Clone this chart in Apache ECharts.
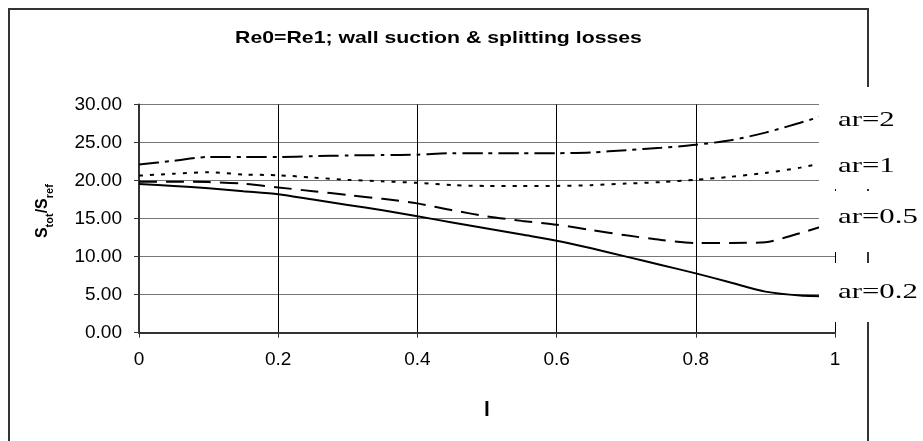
<!DOCTYPE html>
<html>
<head>
<meta charset="utf-8">
<script src="https://cdn.jsdelivr.net/npm/echarts@6/dist/echarts.min.js"></script>
<style>
  html, body { margin: 0; padding: 0; background: #fff; }
  #chart { width: 923px; height: 441px; }
</style>
</head>
<body>
<div id="chart"></div>
<script>
// x positions (l) shared by all curves
const xValues = [0, 0.05, 0.1, 0.15, 0.2, 0.25, 0.3, 0.35, 0.4, 0.45, 0.5,
                 0.55, 0.6, 0.65, 0.7, 0.75, 0.8, 0.85, 0.9, 0.95, 1.0];
// Stot/Sref
const ar2  = [22.1, 22.6, 23.1, 23.1, 23.1, 23.2, 23.3, 23.35, 23.4, 23.6, 23.6,
              23.6, 23.6, 23.7, 24.0, 24.3, 24.7, 25.3, 26.3, 27.6, 29.0];
const ar1  = [20.65, 20.9, 21.1, 20.8, 20.7, 20.4, 20.1, 19.9, 19.7, 19.4, 19.3,
              19.3, 19.3, 19.4, 19.6, 19.8, 20.1, 20.5, 21.0, 21.7, 22.6];
const ar05 = [19.85, 19.85, 19.8, 19.6, 19.1, 18.6, 18.1, 17.6, 17.0, 16.1, 15.3,
              14.7, 14.2, 13.5, 12.8, 12.2, 11.8, 11.8, 11.9, 13.1, 14.5];
const ar02 = [19.55, 19.3, 19.0, 18.6, 18.2, 17.5, 16.8, 16.1, 15.3, 14.5, 13.7,
              12.9, 12.1, 11.1, 10.0, 8.9, 7.8, 6.6, 5.4, 4.9, 4.8];
const seriesNames = ["ar=2", "ar=1", "ar=0.5", "ar=0.2"];
const chartTitle = "Re0=Re1; wall suction & splitting losses";

const chart = echarts.init(document.getElementById("chart"));

const toPairs = arr => xValues.map((x, i) => [x, arr[i]]);

// dash patterns, one per curve
const dashes = [[20, 6, 4, 6], [4, 7], [18, 9], "solid"];
const allData = [ar2, ar1, ar05, ar02];

const series = allData.map((arr, i) => ({
  name: seriesNames[i],
  type: "line",
  data: toPairs(arr),
  showSymbol: false,
  smooth: 0.25,
  lineStyle: { color: "#000", width: 2, type: dashes[i] },
  z: 3
}));

// white label boxes on the right (they hide the line ends like in the original)
const boxes = [[87, 189], [191, 252], [263, 322]];
const labelY = [120, 166, 217, 292];

const graphics = [
  {
    type: "rect",
    shape: { x: 9, y: 9, width: 859, height: 470 },
    style: { fill: "none", stroke: "#333", lineWidth: 2 },
    z: 1
  },
  {
    type: "text",
    x: 438.5,
    y: 38,
    scaleX: 1.25,
    style: {
      text: chartTitle,
      fontFamily: "Liberation Sans",
      fontWeight: "bold",
      fontSize: 17,
      fill: "#000",
      align: "center",
      verticalAlign: "middle"
    },
    z: 60
  }
];
boxes.forEach(b => {
  graphics.push({
    type: "rect",
    shape: { x: 819, y: b[0], width: 104, height: b[1] - b[0] },
    style: { fill: "#fff", stroke: null },
    z: 50
  });
});
seriesNames.forEach((name, i) => {
  graphics.push({
    type: "text",
    x: 838,
    y: labelY[i],
    scaleX: 1.4,
    style: {
      text: name,
      fontFamily: "Liberation Serif",
      fontSize: 22,
      fill: "#000",
      align: "left",
      verticalAlign: "middle"
    },
    z: 60
  });
});

const option = {
  animation: false,
  backgroundColor: "#fff",
  grid: {
    left: 139,
    right: 88,
    top: 104.5,
    bottom: 108.3,
    containLabel: false,
    outerBoundsMode: "none"
  },
  xAxis: {
    type: "value",
    min: 0,
    max: 1,
    interval: 0.2,
    name: "l",
    nameLocation: "middle",
    nameGap: 67,
    nameTextStyle: {
      fontFamily: "Liberation Sans",
      fontWeight: "bold",
      fontSize: 21,
      color: "#000"
    },
    axisLine: { show: true, lineStyle: { color: "#333", width: 2 } },
    axisTick: { show: true, length: 5, lineStyle: { color: "#333", width: 1 } },
    axisLabel: {
      margin: 18,
      fontFamily: "Liberation Sans",
      fontSize: 19,
      color: "#000",
      formatter: v => String(+v.toFixed(1))
    },
    splitLine: { show: true, lineStyle: { color: "#000", width: 1 } }
  },
  yAxis: {
    type: "value",
    min: 0,
    max: 30,
    interval: 5,
    name: "{m|S}{s|tot}{m|/S}{s|ref}",
    nameLocation: "middle",
    nameRotate: 90,
    nameGap: 84,
    nameTextStyle: {
      padding: [0, 0, 0, 15],
      rich: {
        m: { fontFamily: "Liberation Sans", fontWeight: "bold", fontSize: 16, color: "#000", padding: [0, 0, 4, 0] },
        s: { fontFamily: "Liberation Sans", fontWeight: "bold", fontSize: 11, color: "#000", verticalAlign: "bottom" }
      }
    },
    axisLine: { show: true, lineStyle: { color: "#333", width: 2 } },
    axisTick: { show: true, length: 5, lineStyle: { color: "#333", width: 1 } },
    axisLabel: {
      margin: 17,
      fontFamily: "Liberation Sans",
      fontSize: 19,
      color: "#000",
      formatter: v => v.toFixed(2)
    },
    splitLine: { show: true, lineStyle: { color: "#777", width: 1 } }
  },
  tooltip: { show: false },
  legend: { show: false },
  series: series,
  graphic: { elements: graphics }
};

chart.setOption(option);
</script>
</body>
</html>
